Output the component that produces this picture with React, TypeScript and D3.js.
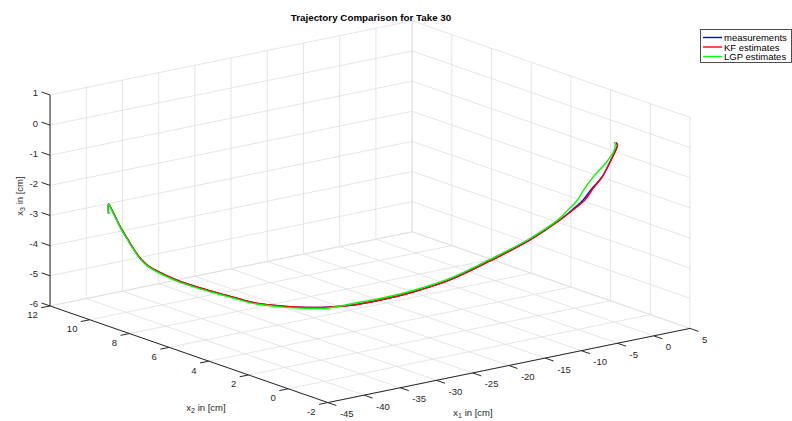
import React from "react";
import * as d3 from "d3";

const W = 792;
const H = 421;

// axis limits / ticks
const x1Ticks = [-45, -40, -35, -30, -25, -20, -15, -10, -5, 0, 5];
const x2Ticks = [-2, 0, 2, 4, 6, 8, 10, 12];
const x3Ticks = [-6, -5, -4, -3, -2, -1, 0, 1];

// trajectory of take 30 (x1, x2, x3 in cm)
const x1Meas = [-39.5, -40.04, -39.74, -39.55, -39.34, -39.03, -38.75, -38.38, -38.01, -37.43, -36.76, -36.25, -35.38, -34.54, -34.03, -32.93, -31.71, -30.68, -28.98, -26.88, -24.28, -21.08, -16.62, -12.42, -8.58, -6.98, -5.48, -4.06, -2.84, -1.41, -0.74, -0.27, -0.16];
const x2Meas = [11.05, 10.86, 10.8, 10.62, 10.44, 10.3, 10.1, 9.88, 9.66, 9.47, 9.11, 8.64, 7.95, 6.9, 5.78, 4.81, 3.9, 3.27, 2.58, 1.98, 1.27, 0.58, 0.19, -0.29, -0.4, -0.42, -0.42, -0.35, -0.43, -0.31, -0.31, -0.27, -0.15];
const x3Meas = [-3.0, -2.6, -2.8, -3.1, -3.4, -3.65, -3.95, -4.25, -4.45, -4.6, -4.75, -4.85, -4.95, -5.0, -5.0, -4.95, -4.85, -4.75, -4.6, -4.4, -4.1, -3.7, -3.2, -2.6, -2.1, -1.85, -1.6, -1.3, -0.95, -0.55, -0.25, -0.05, 0.0];

const x1Kf = [-39.53, -40.04, -39.74, -39.55, -39.34, -39.03, -38.75, -38.38, -38.01, -37.43, -36.76, -36.25, -35.38, -34.54, -34.03, -32.93, -31.71, -30.68, -28.98, -26.88, -24.28, -21.08, -16.62, -12.42, -8.58, -6.83, -5.18, -3.86, -2.84, -1.41, -0.74, -0.27, -0.16];
const x2Kf = [11.05, 10.86, 10.8, 10.62, 10.44, 10.3, 10.1, 9.88, 9.66, 9.47, 9.11, 8.64, 7.95, 6.9, 5.78, 4.81, 3.9, 3.27, 2.58, 1.98, 1.27, 0.58, 0.19, -0.29, -0.4, -0.42, -0.42, -0.35, -0.43, -0.31, -0.31, -0.27, -0.15];
const x3Kf = [-3.0, -2.6, -2.8, -3.1, -3.4, -3.65, -3.95, -4.25, -4.45, -4.6, -4.75, -4.85, -4.95, -5.0, -5.0, -4.95, -4.85, -4.75, -4.6, -4.4, -4.1, -3.7, -3.2, -2.6, -2.1, -1.85, -1.6, -1.3, -0.95, -0.55, -0.25, -0.05, 0.0];

const x1Lgp = [-39.53, -40.04, -39.74, -39.55, -39.34, -39.03, -38.75, -38.38, -38.01, -37.43, -36.76, -36.25, -35.38, -34.54, -34.03, -32.93, -31.71, -30.68, -28.98, -26.88, -24.28, -21.08, -16.62, -12.42, -8.78, -7.53, -6.28, -5.11, -4.19, -1.86, -0.89, -0.57, -0.36];
const x2Lgp = [11.05, 10.86, 10.8, 10.62, 10.44, 10.3, 10.1, 9.88, 9.66, 9.47, 9.11, 8.64, 7.95, 6.9, 5.78, 4.81, 3.9, 3.27, 2.58, 1.98, 1.27, 0.58, 0.19, -0.29, -0.4, -0.42, -0.42, -0.35, -0.43, -0.31, -0.31, -0.27, -0.15];
const x3Lgp = [-3.0, -2.6, -2.83, -3.13, -3.43, -3.68, -3.98, -4.28, -4.48, -4.63, -4.78, -4.88, -4.98, -5.03, -5.03, -4.98, -4.88, -4.78, -4.55, -4.35, -4.05, -3.65, -3.15, -2.55, -2.07, -1.82, -1.57, -1.27, -0.92, -0.52, -0.22, -0.02, 0.03];

const seriesNames = ["measurements", "KF estimates", "LGP estimates"];
const seriesColors = ["#0000ff", "#ff0000", "#00ff00"];

// camera (matlab default view)
const AZ = (-37.5 * Math.PI) / 180;
const EL = (30 * Math.PI) / 180;
const CX = 370, CY = 211.7, SX = 456.4, SY = 243.6;

const s1 = d3.scaleLinear().domain([-45, 5]).range([-0.5, 0.5]);
const s2 = d3.scaleLinear().domain([-2, 12]).range([-0.5, 0.5]);
const s3 = d3.scaleLinear().domain([-6, 1]).range([-0.5, 0.5]);

function project(a: number, b: number, c: number): [number, number] {
  const X = s1(a), Y = s2(b), Z = s3(c);
  const h = Math.cos(AZ) * X + Math.sin(AZ) * Y;
  const v = -Math.sin(EL) * Math.sin(AZ) * X + Math.sin(EL) * Math.cos(AZ) * Y + Math.cos(EL) * Z;
  return [CX + SX * h, CY - SY * v];
}

function unitDir(da: number, db: number, dc: number): [number, number] {
  const p0 = project(0, 5, -2.5);
  const p1 = project(da, 5 + db, -2.5 + dc);
  const dx = p1[0] - p0[0], dy = p1[1] - p0[1];
  const len = Math.hypot(dx, dy);
  return [dx / len, dy / len];
}

const FONT = "'Liberation Sans', Arial, Helvetica, sans-serif";
const GRID = "#dedede";
const AXIS = "#262626";

const Seg = ({ a, b, stroke, w = 0.6 }: any) => {
  const p = project(a[0], a[1], a[2]);
  const q = project(b[0], b[1], b[2]);
  return <line x1={p[0]} y1={p[1]} x2={q[0]} y2={q[1]} stroke={stroke} strokeWidth={w} />;
};

const App = () => {
  const grid: any[] = [];
  // floor
  x1Ticks.forEach(t => grid.push([[t, -2, -6], [t, 12, -6]]));
  x2Ticks.forEach(t => grid.push([[-45, t, -6], [5, t, -6]]));
  // back wall x2 = 12
  x1Ticks.forEach(t => grid.push([[t, 12, -6], [t, 12, 1]]));
  x3Ticks.forEach(t => grid.push([[-45, 12, t], [5, 12, t]]));
  // back wall x1 = 5
  x2Ticks.forEach(t => grid.push([[5, t, -6], [5, t, 1]]));
  x3Ticks.forEach(t => grid.push([[5, -2, t], [5, 12, t]]));

  const series = [
    [x1Meas, x2Meas, x3Meas],
    [x1Kf, x2Kf, x3Kf],
    [x1Lgp, x2Lgp, x3Lgp],
  ];
  const line = d3.line().curve(d3.curveCatmullRom.alpha(0.5));

  const tick = 9;
  const dz = unitDir(0, 1, 0); // z ticks point +x2
  const d2 = unitDir(-1, 0, 0); // x2 ticks point -x1
  const d1 = unitDir(0, -1, 0); // x1 ticks point -x2

  return (
    <svg width={W} height={H} style={{ position: "absolute", left: 0, top: 0, background: "#fff" }} fontFamily={FONT}>
      <rect width={W} height={H} fill="#fff" />
      <g>
        {grid.map((g, i) => <Seg key={i} a={g[0]} b={g[1]} stroke={GRID} w={0.8} />)}
      </g>

      {/* axes */}
      <Seg a={[-45, 12, -6]} b={[-45, 12, 1]} stroke={AXIS} w={1} />
      <Seg a={[-45, -2, -6]} b={[-45, 12, -6]} stroke={AXIS} w={1} />
      <Seg a={[-45, -2, -6]} b={[5, -2, -6]} stroke={AXIS} w={1} />

      {/* z ticks */}
      {x3Ticks.map(t => {
        const p = project(-45, 12, t);
        return (
          <g key={"z" + t}>
            <line x1={p[0]} y1={p[1]} x2={p[0] + dz[0] * tick} y2={p[1] + dz[1] * tick} stroke={AXIS} strokeWidth={1} />
            <text x={p[0] - 12} y={p[1] - 2} textAnchor="end" dominantBaseline="central" fontSize={9.5} fill={AXIS}>{t}</text>
          </g>
        );
      })}
      {/* x2 ticks */}
      {x2Ticks.map(t => {
        const p = project(-45, t, -6);
        return (
          <g key={"y" + t}>
            <line x1={p[0]} y1={p[1]} x2={p[0] + d2[0] * tick} y2={p[1] + d2[1] * tick} stroke={AXIS} strokeWidth={1} />
            <text x={p[0] - 12.3} y={p[1] + 9} textAnchor="end" dominantBaseline="central" fontSize={9.5} fill={AXIS}>{t}</text>
          </g>
        );
      })}
      {/* x1 ticks */}
      {x1Ticks.map(t => {
        const p = project(t, -2, -6);
        return (
          <g key={"x" + t}>
            <line x1={p[0]} y1={p[1]} x2={p[0] + d1[0] * tick} y2={p[1] + d1[1] * tick} stroke={AXIS} strokeWidth={1} />
            <text x={p[0] + 12} y={p[1] + 11} textAnchor="start" dominantBaseline="central" fontSize={9.5} fill={AXIS}>{t}</text>
          </g>
        );
      })}

      {/* axis labels */}
      <text x={473} y={412} textAnchor="middle" dominantBaseline="central" fontSize={9.5} fill={AXIS}>
        x<tspan fontSize={7} dy={3}>1</tspan><tspan dy={-3}> in [cm]</tspan>
      </text>
      <text x={206} y={407} textAnchor="middle" dominantBaseline="central" fontSize={9.5} fill={AXIS}>
        x<tspan fontSize={7} dy={3}>2</tspan><tspan dy={-3}> in [cm]</tspan>
      </text>
      <text transform="translate(19,196) rotate(-90)" textAnchor="middle" dominantBaseline="central" fontSize={9.5} fill={AXIS}>
        x<tspan fontSize={7} dy={3}>3</tspan><tspan dy={-3}> in [cm]</tspan>
      </text>

      {/* trajectories */}
      {series.map((s, k) => {
        const pts = s[0].map((v, i) => project(v, s[1][i], s[2][i]));
        return <path key={k} d={line(pts) || ""} fill="none" stroke={seriesColors[k]} strokeWidth={1.4} strokeLinejoin="round" />;
      })}

      {/* title */}
      <text x={371} y={17} textAnchor="middle" dominantBaseline="central" fontSize={9.8} fontWeight="bold" fill="#000">
        Trajectory Comparison for Take 30
      </text>

      {/* legend */}
      <g>
        <rect x={700.5} y={29.5} width={91} height={33} fill="#fff" stroke={AXIS} strokeWidth={0.8} />
        {seriesNames.map((n, i) => (
          <g key={n} transform={`translate(0,${37.5 + i * 9.5})`}>
            <line x1={703} x2={722} y1={0} y2={0} stroke={seriesColors[i]} strokeWidth={1.4} />
            <text x={724} y={0} dominantBaseline="central" fontSize={9.5} fill="#000">{n}</text>
          </g>
        ))}
      </g>
    </svg>
  );
};

export default App;
